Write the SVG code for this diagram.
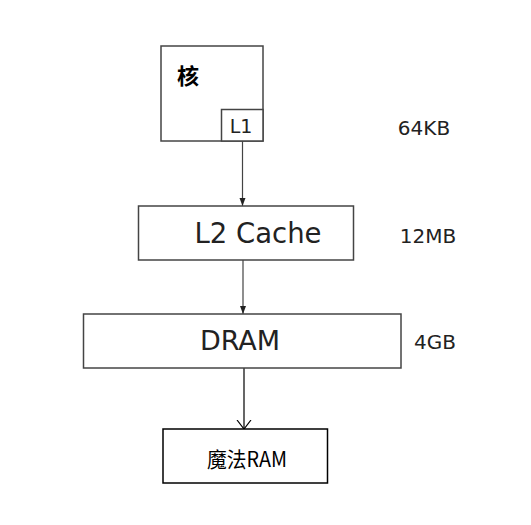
<svg xmlns="http://www.w3.org/2000/svg" width="531" height="525" viewBox="0 0 531 525">
<style>
.box{fill:#fff;stroke:#444;stroke-width:1.5}
.t{font-family:"DejaVu Sans",sans-serif;fill:#222}
.c{font-family:"Noto Sans CJK SC",sans-serif;fill:#000}
.ln{stroke:#444;stroke-width:1.2;fill:none}
</style>
<defs>
<marker id="ah" viewBox="0 0 8 8" refX="8" refY="4" markerWidth="8" markerHeight="8" markerUnits="userSpaceOnUse" orient="auto">
<path d="M0,1 L8,4 L0,7 Z" fill="#222"/>
</marker>
<marker id="va" viewBox="0 0 10 16" refX="9" refY="8" markerWidth="10" markerHeight="16" markerUnits="userSpaceOnUse" orient="auto">
<path d="M0,1 L9,8 L0,15" fill="none" stroke="#000" stroke-width="1.2"/>
</marker>
</defs>
<rect width="531" height="525" fill="#fff"/>
<g id="connectors">
<line class="ln" x1="242.5" y1="141" x2="242.5" y2="206" marker-end="url(#ah)"/>
<line class="ln" x1="243" y1="260" x2="243" y2="314" marker-end="url(#ah)"/>
<line x1="244" y1="368" x2="244" y2="429" stroke="#000" stroke-width="1.2" marker-end="url(#va)"/>
</g>
<g id="core">
<rect class="box" x="161" y="46" width="102" height="95"/>
<text class="c" x="177" y="84" font-size="22" font-weight="bold">核</text>
</g>
<g id="l1">
<rect class="box" x="221.5" y="109.5" width="41.5" height="31.5"/>
<text class="t" x="241" y="133" font-size="19" text-anchor="middle">L1</text>
</g>
<g id="l2">
<rect class="box" x="138.5" y="206" width="215" height="54"/>
<text class="t" x="258" y="243" font-size="27.5" text-anchor="middle">L2 Cache</text>
</g>
<g id="dram">
<rect class="box" x="83.5" y="314" width="317.5" height="54"/>
<text class="t" x="240" y="350" font-size="27" text-anchor="middle">DRAM</text>
</g>
<g id="magic">
<rect x="163" y="429" width="164.5" height="54" fill="#fff" stroke="#000" stroke-width="1.5"/>
<text class="c" x="247" y="467" font-size="21" text-anchor="middle" textLength="80" lengthAdjust="spacingAndGlyphs">魔法RAM</text>
</g>
<g id="sizes">
<text class="t" x="424" y="135" font-size="20" text-anchor="middle">64KB</text>
<text class="t" x="428" y="243" font-size="20" text-anchor="middle">12MB</text>
<text class="t" x="435" y="349" font-size="20" text-anchor="middle">4GB</text>
</g>
</svg>
